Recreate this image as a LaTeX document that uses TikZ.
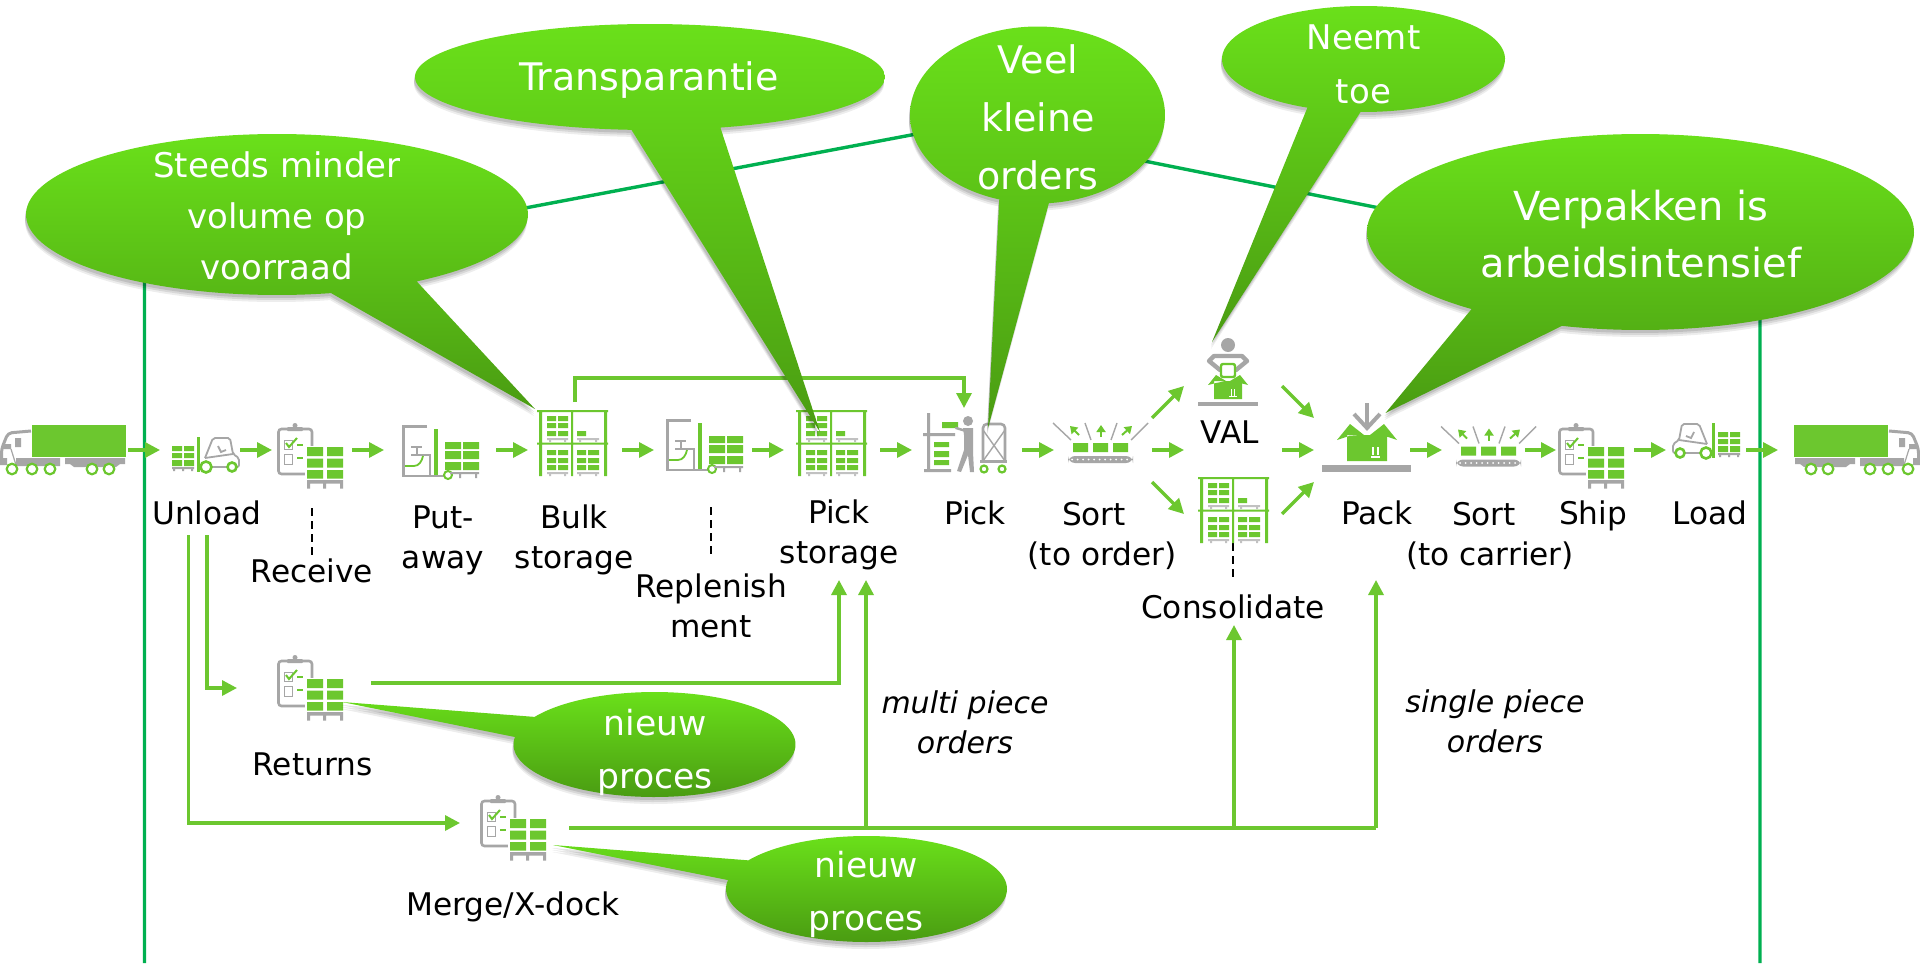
\documentclass[tikz,border=0pt]{standalone}
\usepackage{fontspec}
\setmainfont{DejaVu Sans}
\usetikzlibrary{arrows.meta}
\definecolor{gr}{HTML}{6CC72F}
\definecolor{gy}{HTML}{A6A6A6}
\definecolor{roofc}{HTML}{00B050}
\def\balloon(#1,#2,#3,#4)(#5,#6)(#7)(#8,#9){%
  \pgfmathsetmacro\bta{atan2((#9-#2)/#4,(#8-#1)/#3)}%
  \pgfmathsetmacro\btb{atan2((#6-#2)/#4,(#5-#1)/#3)}%
  \pgfmathsetmacro\bd{mod(\btb-\bta+720,360)}%
  \pgfmathsetmacro\bte{\bd>180 ? \bta+\bd : \bta+\bd-360}%
  \def\bp{plot[domain=\bta:\bte,samples=170] ({#1+#3*cos(\x)},{#2+#4*sin(\x)}) -- (#7) -- cycle}%
  \fill[black,opacity=.07,shift={(-1,7)}] \bp;
  \fill[black,opacity=.09,shift={(-1,5)}] \bp;
  \fill[black,opacity=.11,shift={(-1,3)}] \bp;
  \path[shade,top color=balltop,bottom color=ballbot] \bp;
}
\definecolor{balltop}{HTML}{6AE01A}
\definecolor{ballbot}{HTML}{4A9C12}
\tikzset{
  x=.5pt,y=-.5pt,
  flow/.style={draw=gr,line width=1.65pt,-{Triangle[length=7.5pt,width=7.5pt]}},
  flowline/.style={draw=gr,line width=1.65pt},
  roofline/.style={draw=roofc,line width=1.7pt},
  dashline/.style={draw=black,line width=.75pt,dash pattern=on 4pt off 2.5pt},
  hub/.style={inner sep=0pt,outer sep=0pt,minimum width=#1*.5pt,minimum height=32pt},
  lbl/.style={inner sep=0pt,outer sep=0pt,text=black,anchor=base,align=center,font=\fontsize{15.6}{19.75}\selectfont},
  ilbl/.style={lbl,font=\fontsize{15}{19.75}\selectfont\itshape},
  btxt/.style={inner sep=0pt,outer sep=0pt,text=white,align=center},
  clipstack/.pic={
    \draw[gy,line width=1.3pt,rounded corners=1.5pt] (1.5,6) rectangle (35,51);
    \fill[gy] (18,2.5) circle[radius=2.5];
    \fill[gy,rounded corners=.5pt] (10,4) rectangle (26,8);
    \draw[gy,line width=.5pt] (7,17) rectangle (15,26) (7,31) rectangle (15,41);
    \draw[gr,line width=1pt] (9,20)--(12,24)--(20,15);
    \draw[gr,line width=1pt] (20,22)--(26,22) (20,35)--(26,35);
    \fill[white] (28,23) rectangle (68,68);
    \fill[gr] (30,24) rectangle (46,33) (50,24) rectangle (66,33)
              (30,35.5) rectangle (46,44.5) (50,35.5) rectangle (66,44.5)
              (30,47) rectangle (46,55.5) (50,47) rectangle (66,55.5);
    \fill[gy] (30,57) rectangle (66,60.5) (30,60) rectangle (33,65.5)
              (46,60) rectangle (49,65.5) (63,60) rectangle (66,65.5);
  },
  truck/.pic={
    \fill[gr] (32,0) rectangle (126,32);
    \draw[gy,line width=1.5pt,rounded corners=2pt] (1.5,38)--(1.5,24)--(8,8)--(31,6);
    \fill[gy] (15,13) rectangle (21,22) (3,19) rectangle (11,24);
    \draw[gy,line width=.6pt] (11,24)--(16,40);
    \fill[gy] (16,33) rectangle (60,41) (0,33) rectangle (7,40);
    \fill[gy] (65,33) rectangle (125,39) (70,39)--(120,39)--(116,42)--(74,42)--cycle;
    \draw[gr,line width=1.1pt,fill=white] (12,44) circle[radius=5.3] (32,44) circle[radius=5.3]
      (50,44) circle[radius=5.3] (92,44) circle[radius=5.3] (109,44) circle[radius=5.3];
  },
  forklift/.pic={
    \fill[gr] (0,10) rectangle (10,15) (12,10) rectangle (22,15)
              (0,17) rectangle (10,22) (12,17) rectangle (22,22)
              (0,24) rectangle (10,30) (12,24) rectangle (22,30);
    \fill[gy] (0,31) rectangle (22,33) (1,33) rectangle (3,35) (10,33) rectangle (12,35) (19,33) rectangle (21,35);
    \fill[gr] (25,1) rectangle (28,36);
    \draw[gy,line width=.9pt,rounded corners=1pt] (33,22)--(41,2)--(58,2)--(61,18)--(67,22)--(67,31)--(31,31);
    \draw[gy,line width=.9pt] (33,22)--(61,18) (46,10)--(49,16)--(54,14);
    \draw[gr,line width=1.3pt,fill=white] (34,31) circle[radius=5.5] (60,31) circle[radius=4.5];
  },
  reach/.pic={
    \draw[gy,line width=1.4pt] (25,1.5)--(1.5,1.5)--(1.5,51)--(42,51);
    \draw[gy,line width=.9pt] (9,22)--(20,22) (15,22)--(15,30);
    \draw[gy,line width=1.2pt] (9,30)--(28,30)--(28,50);
    \draw[gr,line width=.9pt] (3,41)--(12,41) .. controls (17,41) and (20,36) .. (21,31);
    \fill[gr] (32,4) rectangle (36,50);
    \draw[gr,line width=1pt,fill=white] (46,50) circle[radius=4];
    \fill[gr] (43,17) rectangle (59,24) (61,17) rectangle (77,24)
              (43,26) rectangle (59,34) (61,26) rectangle (77,34)
              (43,37) rectangle (59,45) (61,37) rectangle (77,45);
    \fill[gy] (48,47) rectangle (77,49) (57,49) rectangle (59,53) (73,49) rectangle (75,53);
  },
  rack/.pic={
    \fill[gr] (2,0) rectangle (5,66) (34,0) rectangle (36,66) (67,0) rectangle (70,66)
              (0,0) rectangle (71,2) (0,32.5) rectangle (71,34.5);
    \fill[gr] (10,6) rectangle (19,11) (21,6) rectangle (31,11)
              (10,13) rectangle (19,18) (21,13) rectangle (31,18)
              (10,21) rectangle (19,26) (21,21) rectangle (31,26)
              (40,21) rectangle (49,26);
    \fill[gr] (10,40) rectangle (19,45) (21,40) rectangle (31,45)
              (10,48) rectangle (19,53) (21,48) rectangle (31,53)
              (10,55) rectangle (19,60) (21,55) rectangle (31,60)
              (40,40) rectangle (49,45) (51,40) rectangle (62,45)
              (40,48) rectangle (49,53) (51,48) rectangle (62,53)
              (40,55) rectangle (49,60) (51,55) rectangle (62,60);
    \fill[gy!70] (10,28) rectangle (31,30) (40,28) rectangle (62,30)
                 (10,62) rectangle (31,64) (40,62) rectangle (62,64);
    \fill[gy!70] (12,30) rectangle (14,32) (27,30) rectangle (29,32) (42,30) rectangle (44,32) (58,30) rectangle (60,32)
                 (12,64) rectangle (14,66) (27,64) rectangle (29,66) (42,64) rectangle (44,66) (58,64) rectangle (60,66);
  },
  sorter/.pic={
    \fill[gy,rounded corners=3.5pt] (15,33) rectangle (80,40);
    \foreach \dx in {19,24.5,...,77}{\fill[white] (\dx,36.5) circle[radius=1];}
    \fill[gr] (20,20) rectangle (35,29) (40,20) rectangle (55,29) (60,20) rectangle (75,29);
    \draw[gy,line width=.7pt] (0,0)--(18,17) (32,0)--(38,17) (64,0)--(58,17) (95,0)--(78,17);
    \draw[gr,line width=1pt,-{Stealth[length=3.5pt,width=4.5pt,inset=0pt]}] (26,12)--(17,3);
    \draw[gr,line width=1pt,-{Stealth[length=3.5pt,width=4.5pt,inset=0pt]}] (48,14)--(48,2);
    \draw[gr,line width=1pt,-{Stealth[length=3.5pt,width=4.5pt,inset=0pt]}] (69,12)--(79,3);
  }
}
\begin{document}
\begin{tikzpicture}
\useasboundingbox (0,0) rectangle (1920,963);
\fill[white] (0,0) rectangle (1920,963);

% anchors of the process chain (invisible)
\node[hub=128] (truckL) at (64,450) {};
\node[hub=80] (unload) at (200,450) {};
\node[hub=80] (receive) at (312,450) {};
\node[hub=112] (putaway) at (440,450) {};
\node[hub=94] (bulk) at (575,450) {};
\node[hub=98] (replen) at (703,450) {};
\node[hub=96] (pickst) at (832,450) {};
\node[hub=110] (pick) at (967,450) {};
\node[hub=98] (sortA) at (1103,450) {};
\node[hub=98] (val) at (1233,418) {};
\node[hub=98] (cons) at (1233,482) {};
\node[hub=96] (pack) at (1362,450) {};
\node[hub=83] (sortB) at (1483.5,450) {};
\node[hub=78] (ship) at (1595,450) {};
\node[hub=80] (load) at (1706,450) {};
\node[hub=142] (truckR) at (1849,450) {};

% named ends of the free connectors
\coordinate (roofL) at (144.5,963);
\coordinate (roofLt) at (144.5,280);
\coordinate (roofTop) at (964,125);
\coordinate (roofRt) at (1760,284);
\coordinate (roofR) at (1760,963);
\coordinate (topOut) at (575,402);
\coordinate (topIn) at (964,408);
\coordinate (topCorner) at (575,378);
\coordinate (uRet) at (207,535);
\coordinate (retIn) at (237,688);
\coordinate (uMerge) at (188.5,535);
\coordinate (mergeIn) at (460,823);
\coordinate (retOut) at (371,683);
\coordinate (retUp) at (839,580);
\coordinate (mergeOut) at (569,828);
\coordinate (mergeEnd) at (1376,828);
\coordinate (multiUp) at (866,580);
\coordinate (multiBase) at (866,828);
\coordinate (consUp) at (1234,625);
\coordinate (consBase) at (1234,828);
\coordinate (singleUp) at (1376,580);
\coordinate (dA1) at (312,508);
\coordinate (dA2) at (312,558);
\coordinate (dB1) at (711,507);
\coordinate (dB2) at (711,558);
\coordinate (dC1) at (1233,543);
\coordinate (dC2) at (1233,580);

% warehouse outline
\draw[roofline,line join=round] (roofL) -- (roofLt) -- (roofTop) -- (roofRt) -- (roofR);

% chain arrows
\draw[flow] (truckL.east) -- (unload.west);
\draw[flow] (unload.east) -- (receive.west);
\draw[flow] (receive.east) -- (putaway.west);
\draw[flow] (putaway.east) -- (bulk.west);
\draw[flow] (bulk.east) -- (replen.west);
\draw[flow] (replen.east) -- (pickst.west);
\draw[flow] (pickst.east) -- (pick.west);
\draw[flow] (pick.east) -- (sortA.west);
\draw[flow] (sortA.north east) -- (val.north west);
\draw[flow] (sortA.east) -- (val.south west);
\draw[flow] (sortA.south east) -- (cons.south west);
\draw[flow] (val.north east) -- (pack.north west);
\draw[flow] (val.south east) -- (pack.west);
\draw[flow] (cons.south east) -- (pack.south west);
\draw[flow] (pack.east) -- (sortB.west);
\draw[flow] (sortB.east) -- (ship.west);
\draw[flow] (ship.east) -- (load.west);
\draw[flow] (load.east) -- (truckR.west);

% other connectors
\draw[flow] (topOut) -- (topCorner) -- (topCorner -| topIn) -- (topIn);
\draw[flow] (uRet) |- (retIn);
\draw[flow] (uMerge) |- (mergeIn);
\draw[flow] (retOut) -| (retUp);
\draw[flowline] (mergeOut) -- (mergeEnd);
\draw[flow] (mergeEnd) -- (singleUp);
\draw[flow] (multiBase) -- (multiUp);
\draw[flow] (consBase) -- (consUp);
\draw[dashline] (dA1) -- (dA2);
\draw[dashline] (dB1) -- (dB2);
\draw[dashline] (dC1) -- (dC2);

% icons
\pic at (0,425) {truck};
\begin{scope}[xshift=960pt,xscale=-1]\pic[transform shape] at (0,425) {truck};\end{scope}
\pic at (172,436) {forklift};
\begin{scope}[xshift=956pt,xscale=-1]\pic[transform shape] at (172,422) {forklift};\end{scope}
\pic at (277,423) {clipstack};
\pic at (277,655) {clipstack};
\pic at (480,795) {clipstack};
\pic at (1558,423) {clipstack};
\pic at (402,425) {reach};
\pic at (666,419) {reach};
\pic at (537,410) {rack};
\pic at (796,410) {rack};
\pic at (1198,477) {rack};
\pic at (1053,423) {sorter};
\pic at (1441,426.5) {sorter};

% pick icon
\fill[gy] (927,413) rectangle (930,472) (923,433) rectangle (955,436) (924,469) rectangle (951,472);
\fill[gr] (934,442) rectangle (949,447) (934,451) rectangle (949,457) (934,460) rectangle (949,465) (942,422) rectangle (958,428);
\fill[gy] (968,421) circle[radius=5];
\draw[gy,line width=1.2pt,line cap=round,line join=round] (956,428)--(966,431);
\fill[gy] (963,428)--(973,428)--(973,452)--(974,472)--(970,472)--(968,455)--(961,472)--(957,471)--(964,450)--(964,435)--cycle;
\draw[gy,line width=1.3pt,rounded corners=2pt] (983,461)--(983,424)--(1005,424)--(1005,461);
\draw[gy,line width=.7pt] (983,430)--(1005,461) (1005,430)--(983,461);
\fill[gy] (980,460) rectangle (1007,463);
\draw[gr,line width=1.1pt,fill=white] (984,469) circle[radius=3.5] (1002,469) circle[radius=3.5];

% VAL icon
\fill[gy] (1228,345) circle[radius=7];
\draw[gy,line width=2.2pt,line join=round,line cap=round] (1220,370)--(1209,361)--(1214,356)--(1242,356)--(1247,361)--(1236,370);
\draw[gr,line width=1.2pt,fill=white,rounded corners=1pt] (1221,364) rectangle (1235,377);
\fill[gr] (1214,381) rectangle (1242,399) (1208,385)--(1216,375)--(1226,381)--(1216,383)--cycle (1248,385)--(1240,375)--(1230,381)--(1240,383)--cycle;
\fill[gy] (1198,402) rectangle (1258,406);
\draw[white,line width=.5pt] (1231,396)--(1231,389) (1234.5,396)--(1234.5,389) (1229,396.5)--(1237,396.5);

% Pack icon
\fill[gr] (1347,435) rectangle (1387,461) (1337,440)--(1350,424)--(1364,435)--(1349,436)--cycle (1397,440)--(1384,424)--(1370,435)--(1385,436)--cycle;
\fill[gy] (1322,465) rectangle (1411,472);
\draw[gy,line width=2pt] (1367,403)--(1367,425);
\draw[gy,line width=2pt] (1354,414)--(1367,428)--(1380,414);
\draw[white,line width=.6pt] (1373,455)--(1373,447) (1378,455)--(1378,447) (1371,457)--(1380,457);

% labels
\node[lbl] (lUnload) at (207,524) {Unload};
\node[lbl] (lReceive) at (312,582) {Receive};
\node[lbl] (lPut) at (443,568) {Put-\\away};
\node[lbl] (lBulk) at (574,568) {Bulk\\storage};
\node[lbl] (lRepl) at (711,637) {Replenish\\ment};
\node[lbl] (lPickSt) at (839,563) {Pick\\storage};
\node[lbl] (lPick) at (975,524) {Pick};
\node[lbl] (lSortA) at (1102,565) {Sort\hspace*{8pt}\\(to order)};
\node[lbl] (lVal) at (1230,443) {VAL};
\node[lbl] (lPack) at (1377,524) {Pack};
\node[lbl] (lSortB) at (1490,565) {Sort\hspace*{6pt}\\(to carrier)};
\node[lbl] (lShip) at (1593,524) {Ship};
\node[lbl] (lLoad) at (1710,524) {Load};
\node[lbl] (lCons) at (1233,618) {Consolidate};
\node[lbl] (lRet) at (312.5,775) {Returns};
\node[lbl] (lMerge) at (513,915) {Merge/X-dock};
\node[ilbl] (lMulti) at (965,753) {multi piece\\orders};
\node[ilbl] (lSingle) at (1495,752) {single piece\\orders};

% balloons
\balloon(277,214.5,251,80.5)(331,293)(535,409)(418,282)
\balloon(650,77,235,53)(631,131)(820,432)(721,128)
\balloon(1037.5,115,127.5,88.5)(999,200)(988,428)(1049,204)
\balloon(1363.5,59,141.5,53)(1307,108)(1212,342)(1360.5,112)
\balloon(1640.5,232,273.5,98)(1469.5,310)(1385.5,413)(1561,327)
\balloon(654.5,744.5,141,52.5)(535,717)(342,702)(514.5,737)
\balloon(866.5,889,140.5,53)(747,860)(553,845)(727,880)

\node[btxt,font=\fontsize{17}{25.5}\selectfont] (bA) at (277,216) {Steeds minder\\volume op\\voorraad};
\node[btxt,font=\fontsize{19}{29}\selectfont] (bB) at (649,80) {Transparantie};
\node[btxt,font=\fontsize{19}{29}\selectfont] (bC) at (1038,117) {Veel\\kleine\\orders};
\node[btxt,font=\fontsize{17}{27}\selectfont] (bD) at (1363.5,64) {Neemt\\toe};
\node[btxt,font=\fontsize{20}{28.5}\selectfont] (bE) at (1641,234) {Verpakken is\\arbeidsintensief};
\node[btxt,font=\fontsize{17.3}{26.5}\selectfont] (bF) at (655,752) {nieuw\\proces};
\node[btxt,font=\fontsize{17.3}{26.5}\selectfont] (bG) at (866,894) {nieuw\\proces};
\end{tikzpicture}
\end{document}
